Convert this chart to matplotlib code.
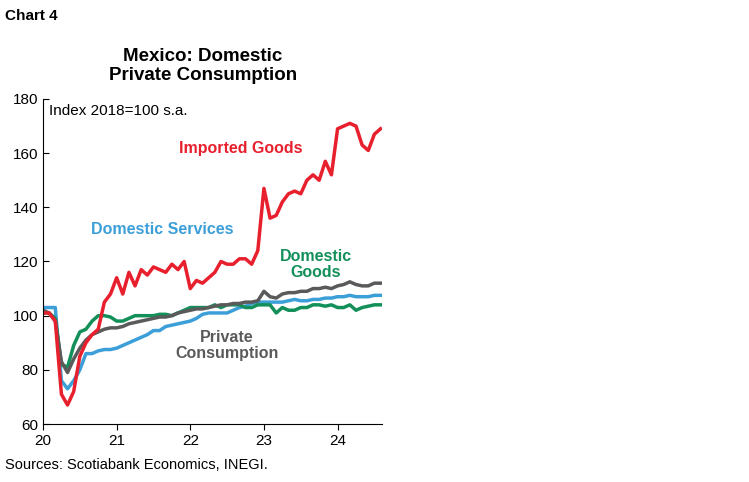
import matplotlib
matplotlib.use("Agg")
import matplotlib.pyplot as plt
import numpy as np

plt.rcParams['font.family'] = ['Liberation Sans', 'DejaVu Sans']

imported = [101,101,98,71,67,72,85,90,93,95,105,108,
            114,108,116,111,117,115,118,117,116,119,117,120,
            110,113,112,114,116,120,119,119,121,121,119,124,
            147,136,137,142,145,146,145,150,152,150,157,152,
            169,170,171,170,163,161,167,169]
private = [102,101,98,83,79,84,88,91,93,94,95,95.5,
           95.5,96,97,97.5,98,98.5,99,99.5,99.5,100,101,101.5,
           102,102.5,102.5,103,103.5,104,104,104.5,104.5,105,105,105.5,
           109,107,106.5,108,108.5,108.5,109,109,110,110,110.5,110,
           111,111.5,112.5,111.5,111,111,112,112]
services = [103,103,103,76,73,76,80,86,86,87,87.5,87.5,
            88,89,90,91,92,93,94.5,94.5,96,96.5,97,97.5,
            98,99,100.5,101,101,101,101,102,103,103.5,104.5,105,
            105,105,105,105,105.5,106,105.5,105.5,106,106,106.5,106.5,
            107,107,107.5,107,107,107,107.5,107.5]
goods = [101,101,99,82,81,89,94,95,98,100,100,99.5,
         98,98,99,100,100,100,100,100.5,100.5,100,101,102,
         103,103,103,103,104,103,104,104,104,103,103,104,
         104,104,101,103,102,102,103,103,104,104,103.5,104,
         103,103,104,102,103,103.5,104,104]
year_labels = ['20', '21', '22', '23', '24']

t = 2020 + np.arange(len(imported)) / 12.0

fig = plt.figure(figsize=(7.49, 4.82), dpi=100)
ax = fig.add_axes([43/749, 1-424/482, (382-43)/749, (424-99)/482])

ax.plot(t, services, color='#3C9FD8', lw=2.5)
ax.plot(t, goods, color='#13905A', lw=2.5)
ax.plot(t, private, color='#5A5A5A', lw=2.5)
ax.plot(t, imported, color='#E8202E', lw=2.5)

ax.set_ylim(60, 180)
ax.set_xlim(2020, t[-1] + 0.02)
ax.set_yticks(range(60, 181, 20))
ax.set_xticks([2020, 2021, 2022, 2023, 2024])
ax.set_xticklabels(year_labels)
for s in ['top', 'right']:
    ax.spines[s].set_visible(False)
ax.tick_params(axis='y', direction='in', length=4, labelsize=11)
ax.tick_params(axis='x', direction='out', length=4, labelsize=11)

ax.text(2020.08, 178, 'Index 2018=100 s.a.', fontsize=11, va='top')
ax.text(2021.85, 160, 'Imported Goods', color='#E8202E', fontsize=11.5, fontweight='bold')
ax.text(2020.65, 130, 'Domestic Services', color='#3C9FD8', fontsize=11.5, fontweight='bold')
ax.text(2023.7, 119, 'Domestic\nGoods', color='#13905A', fontsize=11.5, fontweight='bold', ha='center', va='center', linespacing=1.1)
ax.text(2022.5, 89, 'Private\nConsumption', color='#5A5A5A', fontsize=11.5, fontweight='bold', ha='center', va='center', linespacing=1.1)

fig.text(5/749, 1-16/482, 'Chart 4', fontsize=11, fontweight='bold', va='center')
fig.text(203/749, 1-66/482, 'Mexico: Domestic\nPrivate Consumption', fontsize=13.5, fontweight='bold', ha='center', va='center', linespacing=1.15)
fig.text(5/749, 1-465/482, 'Sources: Scotiabank Economics, INEGI.', fontsize=10.5, va='center')

fig.savefig('out.png', dpi=100)
